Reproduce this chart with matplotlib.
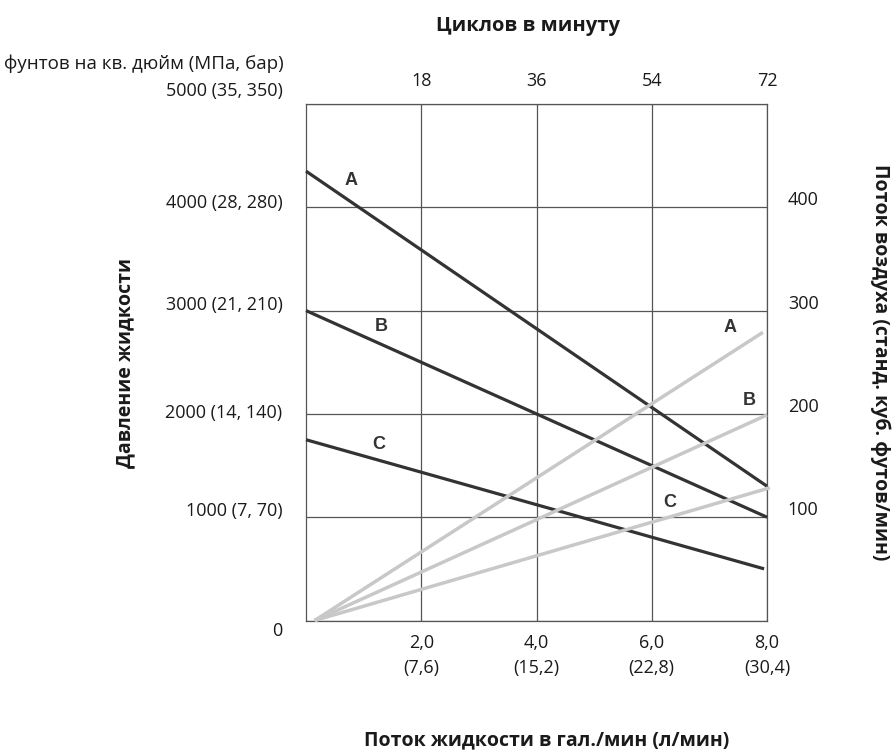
import matplotlib
matplotlib.use("Agg")
import matplotlib.pyplot as plt
import matplotlib.transforms as mtransforms

# ---- data ----
flow_ticks = [2, 4, 6, 8]
flow_tick_labels = ["2,0\n(7,6)", "4,0\n(15,2)", "6,0\n(22,8)", "8,0\n(30,4)"]
cycle_tick_labels = ["18", "36", "54", "72"]
pressure_ticks = [0, 1000, 2000, 3000, 4000, 5000]
pressure_tick_labels = ["0", "1000 (7, 70)", "2000 (14, 140)", "3000 (21, 210)",
                        "4000 (28, 280)", "5000 (35, 350)"]
air_ticks = [100, 200, 300, 400]
air_tick_labels = ["100", "200", "300", "400"]

press_A_x = [0.0, 8.0]
press_A_y = [4350, 1300]
press_B_x = [0.0, 8.0]
press_B_y = [3000, 1000]
press_C_x = [0.0, 7.95]
press_C_y = [1750, 500]

air_A_x = [0.15, 7.93]
air_A_y = [0, 279]
air_B_x = [0.15, 8.0]
air_B_y = [0, 199]
air_C_x = [0.15, 8.05]
air_C_y = [0, 128.5]

press_labels = [("A", 0.78, 4262), ("B", 1.31, 2847), ("C", 1.27, 1705)]
air_labels = [("A", 7.36, 283.5), ("B", 7.70, 213), ("C", 6.32, 114)]

DARK = "#333333"
LIGHT = "#c8c8c8"
GRID = "#555555"
TXT = "#1a1a1a"

W, H = 893, 753
fig = plt.figure(figsize=(W / 100, H / 100), dpi=100)
L, R, T, B = 306, 767, 104, 620.5
ax = fig.add_axes([L / W, 1 - B / H, (R - L) / W, (B - T) / H])
ax.set_xlim(0, 8)
ax.set_ylim(0, 5000)

for s in ax.spines.values():
    s.set_color(GRID)
    s.set_linewidth(0.9)

ax.set_xticks(flow_ticks)
ax.set_xticklabels(flow_tick_labels, fontsize=13, family="Open Sans", color=TXT,
                   linespacing=1.45)
ax.set_yticks(pressure_ticks)
ax.set_yticklabels(pressure_tick_labels, fontsize=13, family="Open Sans", color=TXT)
ax.tick_params(axis="x", length=0, pad=10)
ax.tick_params(axis="y", length=0, pad=17)
ax.grid(True, color=GRID, linewidth=0.9)
ax.set_axisbelow(True)

# per-label vertical offsets of left tick labels (px)
offs = [8, -8, -3, -8, -6, -15]
for lab, d in zip(ax.get_yticklabels(), offs):
    lab.set_transform(lab.get_transform() +
                      mtransforms.ScaledTranslation(0, -d / 100, fig.dpi_scale_trans))

# pressure lines
ax.plot(press_A_x, press_A_y, color=DARK, lw=2.3, solid_capstyle="butt", clip_on=False, zorder=3)
ax.plot(press_B_x, press_B_y, color=DARK, lw=2.3, solid_capstyle="butt", clip_on=False, zorder=3)
ax.plot(press_C_x, press_C_y, color=DARK, lw=2.3, solid_capstyle="butt", clip_on=False, zorder=3)
for t, x, y in press_labels:
    ax.text(x, y, t, fontsize=13, fontweight="bold", family="Liberation Sans",
            color=DARK, ha="center", va="center", zorder=4)

# air lines on twin axis
tw = ax.twinx()
tw.set_ylim(0, 500)
tw.set_yticks(air_ticks)
tw.set_yticklabels(air_tick_labels, fontsize=13, family="Open Sans", color=TXT)
tw.tick_params(axis="y", length=0, pad=15)
for s in tw.spines.values():
    s.set_visible(False)
for lab in tw.get_yticklabels():
    lab.set_transform(lab.get_transform() +
                      mtransforms.ScaledTranslation(0, 9 / 100, fig.dpi_scale_trans))
tw.plot(air_A_x, air_A_y, color=LIGHT, lw=2.5, solid_capstyle="butt", clip_on=False, zorder=2)
tw.plot(air_B_x, air_B_y, color=LIGHT, lw=2.5, solid_capstyle="butt", clip_on=False, zorder=2)
tw.plot(air_C_x, air_C_y, color=LIGHT, lw=2.5, solid_capstyle="butt", clip_on=False, zorder=2)
for t, x, y in air_labels:
    tw.text(x, y, t, fontsize=13, fontweight="bold", family="Liberation Sans",
            color=DARK, ha="center", va="center", zorder=4)

# top axis: cycles per minute
top = ax.secondary_xaxis("top", functions=(lambda v: v * 9, lambda v: v / 9))
top.set_xticks([18, 36, 54, 72])
top.set_xticklabels(cycle_tick_labels, fontsize=13, family="Open Sans", color=TXT)
top.tick_params(axis="x", length=0, pad=10)
top.spines["top"].set_visible(False)

def px(x, y):
    return x / W, 1 - y / H

fig.text(*px(528, 26), "Циклов в минуту", fontsize=14.5, fontweight="bold",
         family="Open Sans", color=TXT, ha="center", va="center")
fig.text(*px(284, 64), "фунтов на кв. дюйм (МПа, бар)", fontsize=13.5,
         family="Open Sans", color=TXT, ha="right", va="center")
fig.text(*px(547, 740), "Поток жидкости в гал./мин (л/мин)", fontsize=14,
         fontweight="bold", family="Open Sans", color=TXT, ha="center", va="center")
fig.text(*px(125, 363), "Давление жидкости", fontsize=14, fontweight="bold",
         family="Open Sans", color=TXT, ha="center", va="center", rotation=90)
fig.text(*px(880, 362), "Поток воздуха (станд. куб. футов/мин)", fontsize=14,
         fontweight="bold", family="Open Sans", color=TXT, ha="center", va="center",
         rotation=-90)

fig.savefig("out.png", dpi=100)
